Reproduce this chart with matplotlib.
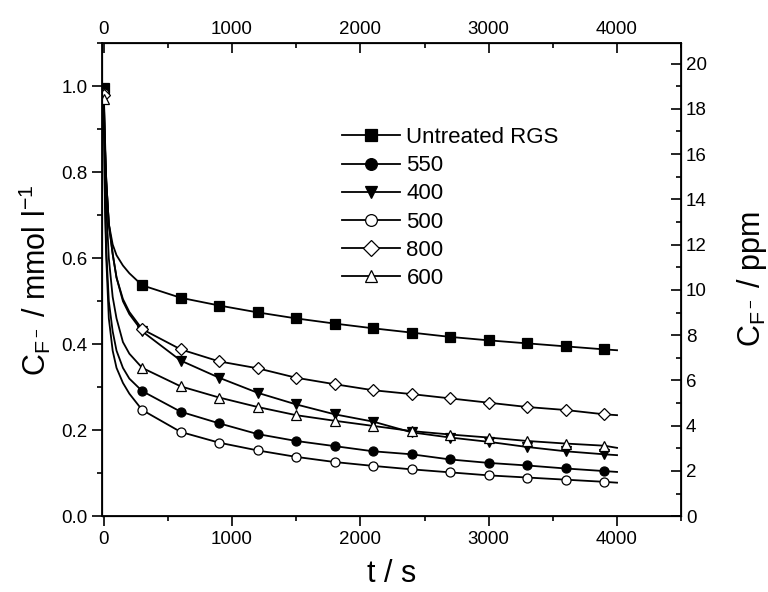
import matplotlib
matplotlib.use('Agg')
import matplotlib.pyplot as plt
from matplotlib.ticker import MultipleLocator

plt.rcParams['font.family'] = ['Liberation Sans', 'DejaVu Sans']
plt.rcParams['mathtext.fontset'] = 'custom'
plt.rcParams['mathtext.rm'] = 'Liberation Sans'
plt.rcParams['mathtext.it'] = 'Liberation Sans:italic'

# sampled times (s) with markers
t_pts = [0, 300, 600, 900, 1200, 1500, 1800, 2100, 2400, 2700, 3000, 3300, 3600, 3900]
# early part of the fitted curves and curve end
t_early = [10, 20, 40, 70, 100, 150, 200]
t_end = 4000

labels = ['Untreated RGS', '550', '400', '500', '800', '600']
markers = ['s', 'o', 'v', 'o', 'D', '^']
filled = [True, True, True, False, False, False]

untreated = [0.995, 0.537, 0.508, 0.490, 0.474, 0.460, 0.448, 0.437, 0.427, 0.417, 0.409, 0.402, 0.395, 0.388]
s550 = [0.985, 0.291, 0.243, 0.216, 0.191, 0.175, 0.163, 0.151, 0.144, 0.132, 0.124, 0.118, 0.111, 0.105]
s400 = [0.990, 0.430, 0.362, 0.322, 0.287, 0.260, 0.237, 0.220, 0.195, 0.183, 0.173, 0.161, 0.151, 0.144]
s500 = [0.985, 0.247, 0.196, 0.171, 0.153, 0.138, 0.126, 0.117, 0.109, 0.102, 0.095, 0.090, 0.085, 0.080]
s800 = [0.980, 0.435, 0.388, 0.360, 0.344, 0.322, 0.307, 0.293, 0.284, 0.274, 0.264, 0.254, 0.247, 0.237]
s600 = [0.970, 0.345, 0.302, 0.276, 0.254, 0.235, 0.222, 0.210, 0.198, 0.190, 0.183, 0.175, 0.169, 0.164]

untreated_early = [0.88, 0.78, 0.68, 0.632, 0.607, 0.583, 0.565]
s550_early = [0.74, 0.62, 0.50, 0.43, 0.385, 0.345, 0.32]
s400_early = [0.86, 0.78, 0.68, 0.61, 0.555, 0.50, 0.47]
s500_early = [0.72, 0.60, 0.46, 0.385, 0.345, 0.31, 0.285]
s800_early = [0.86, 0.78, 0.68, 0.61, 0.555, 0.505, 0.475]
s600_early = [0.83, 0.72, 0.60, 0.51, 0.46, 0.405, 0.378]

ends = [0.386, 0.103, 0.142, 0.078, 0.235, 0.159]

series = [untreated, s550, s400, s500, s800, s600]
early = [untreated_early, s550_early, s400_early, s500_early, s800_early, s600_early]

fig = plt.figure(figsize=(7.68, 5.92), dpi=100)
ax = fig.add_axes([0.133, 0.128, 0.754, 0.799])

t_line = [t_pts[0]] + t_early + t_pts[1:] + [t_end]
mark_idx = [0] + list(range(len(t_early) + 1, len(t_early) + len(t_pts)))

for lab, m, f, pts, ea, e in zip(labels, markers, filled, series, early, ends):
    c_line = [pts[0]] + ea + pts[1:] + [e]
    ms = 6.5 if m != 'D' else 6
    ax.plot(t_line, c_line, color='black', lw=1.3, marker=m, markevery=mark_idx,
            ms=ms, mfc='black' if f else 'white', mec='black', mew=0.9, label=lab)

ax.set_xlim(-12, 4500)
ax.set_ylim(0, 1.1)
ax.xaxis.set_major_locator(MultipleLocator(1000))
ax.xaxis.set_minor_locator(MultipleLocator(500))
ax.yaxis.set_major_locator(MultipleLocator(0.2))
ax.yaxis.set_minor_locator(MultipleLocator(0.1))
ax.yaxis.set_major_formatter(plt.FormatStrFormatter('%.1f'))
ax.tick_params(which='major', direction='out', length=7, width=1.2, labelsize=13.5)
ax.tick_params(which='minor', direction='out', length=3.5, width=1.2)
for s in ax.spines.values():
    s.set_linewidth(1.3)

ax.set_xlabel('t / s', fontsize=22, labelpad=8)
ax.set_ylabel(r'C$_{\mathrm{F^-}}$ / mmol l$^{\mathrm{-1}}$', fontsize=22, labelpad=6)

# top axis (same time scale)
axt = ax.twiny()
axt.set_xlim(ax.get_xlim())
axt.xaxis.set_major_locator(MultipleLocator(1000))
axt.xaxis.set_minor_locator(MultipleLocator(500))
axt.tick_params(which='major', direction='in', length=7, width=1.2, labelsize=13.5)
axt.tick_params(which='minor', direction='in', length=3.5, width=1.2)

# right axis in ppm (1 mmol/l F- = 19 ppm)
axr = ax.twinx()
axr.set_ylim(0, 1.1 * 19)
axr.yaxis.set_major_locator(MultipleLocator(2))
axr.yaxis.set_minor_locator(MultipleLocator(1))
axr.tick_params(which='major', direction='in', length=7, width=1.2, labelsize=13.5)
axr.tick_params(which='minor', direction='in', length=3.5, width=1.2)
axr.set_ylabel(r'C$_{\mathrm{F^-}}$ / ppm', fontsize=22, labelpad=20)

leg = ax.legend(loc='upper left', bbox_to_anchor=(0.395, 0.846), frameon=False,
                fontsize=16, handlelength=2.6, handletextpad=0.3, labelspacing=0.32,
                numpoints=1, markerscale=1.3, borderpad=0)

fig.savefig('out.png', dpi=100)
